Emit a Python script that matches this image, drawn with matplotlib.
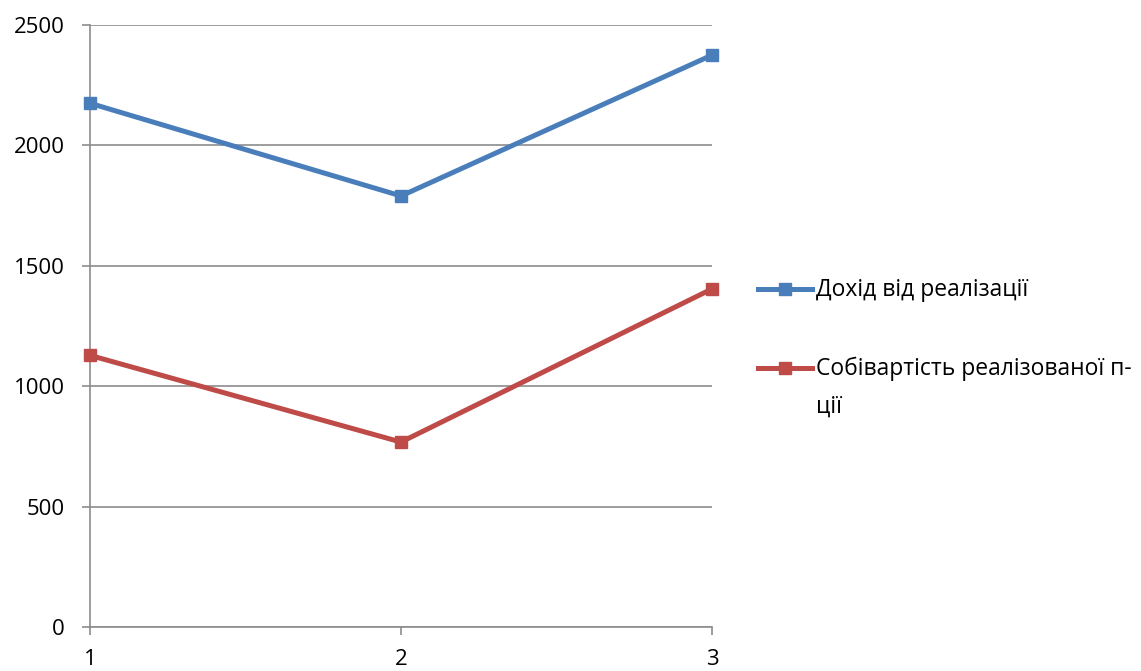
import matplotlib.pyplot as plt
from matplotlib.lines import Line2D

x = [1, 2, 3]
income = [2175, 1790, 2375]
cost = [1128, 768, 1404]
labels = ['Дохід від реалізації', 'Собівартість реалізованої п-\nції']
colors = ['#4A7EBB', '#BE4B48']

plt.rcParams['font.family'] = ['Open Sans', 'DejaVu Sans']

fig = plt.figure(figsize=(11.41, 6.71), dpi=100)
ax = fig.add_axes([90 / 1141, 44 / 671, 622 / 1141, 602 / 671])

for series, c in zip([income, cost], colors):
    ax.plot(x, series, color=c, lw=3.6, marker='s', markersize=9,
            solid_joinstyle='miter', clip_on=False, zorder=3)

ax.set_xlim(1, 3)
ax.set_ylim(0, 2500)
ax.set_xticks(x)
ax.set_yticks(range(0, 2501, 500))
ax.yaxis.grid(True, color='#8c8c8c', lw=1.2)
ax.set_axisbelow(True)
for s in ['top', 'right']:
    ax.spines[s].set_visible(False)
for s in ['left', 'bottom']:
    ax.spines[s].set_color('#8c8c8c')
    ax.spines[s].set_linewidth(1.2)
ax.tick_params(axis='both', colors='#8c8c8c', labelcolor='black', labelsize=16,
               length=6, width=1.2)
ax.tick_params(axis='x', pad=10)
ax.tick_params(axis='y', pad=12)

# legend keys drawn to the right, handle aligned with the first text line
key_y = [289, 368]
for ky, lab, c in zip(key_y, labels, colors):
    yf = 1 - ky / 671
    fig.add_artist(Line2D([758 / 1141, 812 / 1141], [yf, yf], color=c, lw=3.6,
                          transform=fig.transFigure))
    fig.add_artist(Line2D([785 / 1141], [yf], color=c, marker='s', markersize=9,
                          transform=fig.transFigure))
    fig.text(816 / 1141, yf + 11 / 671, lab, fontsize=16.5, va='top', ha='left',
             linespacing=1.75)

fig.savefig('out.png', dpi=100)
